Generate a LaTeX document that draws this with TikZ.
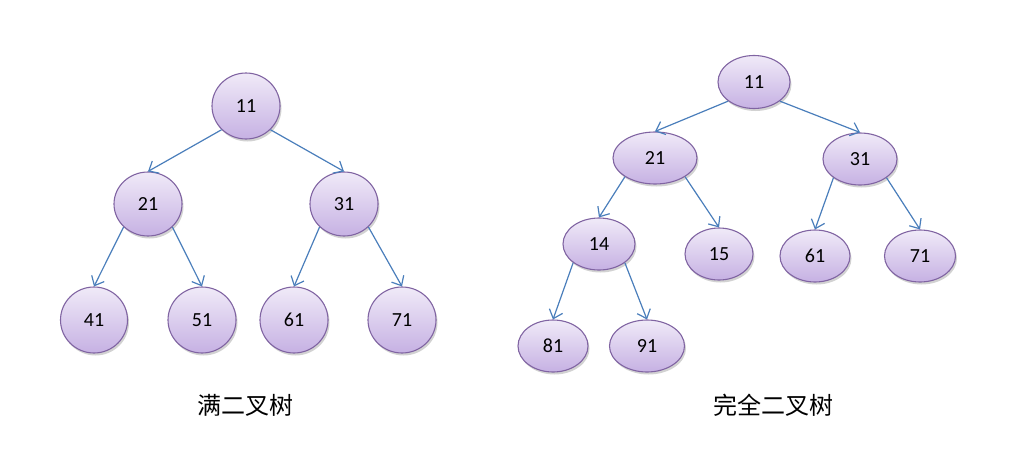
\documentclass[tikz,border=0pt]{standalone}
\usepackage{fontspec}
\setmainfont{Carlito}
\newfontfamily\cjk{Noto Sans CJK SC}
\usetikzlibrary{shapes.geometric,arrows.meta,shadows}
\definecolor{edgeblue}{HTML}{4A7EBB}
\definecolor{nodeborder}{HTML}{8064A2}
\definecolor{topfill}{HTML}{F0EAF8}
\definecolor{botfill}{HTML}{C6B1E3}
\tikzset{
  tn/.style={ellipse, draw=nodeborder, line width=1.1pt, top color=topfill, bottom color=botfill,
    inner sep=0pt, font=\fontsize{20}{22}\selectfont,
    drop shadow={opacity=0.25, shadow xshift=1.5pt, shadow yshift=-2.5pt, fill=black!70}},
  linkarrow/.style={draw=edgeblue, line width=1.2pt, -{Straight Barb[length=8pt,width=14pt]}},
  captext/.style={font=\cjk\fontsize{24}{26}\selectfont}
}
\begin{document}
\begin{tikzpicture}[x=1pt,y=-1pt]
\useasboundingbox (0,0) rectangle (1033,474);
% left full binary tree
\node[tn, minimum width=68pt, minimum height=66pt] (a11) at (246,106) {11};
\node[tn, minimum width=68pt, minimum height=64pt] (a21) at (148,204) {21};
\node[tn, minimum width=68pt, minimum height=64pt] (a31) at (344,204) {31};
\node[tn, minimum width=67pt, minimum height=66pt] (a41) at (94,320) {41};
\node[tn, minimum width=68pt, minimum height=66pt] (a51) at (202,320) {51};
\node[tn, minimum width=68pt, minimum height=66pt] (a61) at (294,320) {61};
\node[tn, minimum width=68pt, minimum height=66pt] (a71) at (402,320) {71};
\draw[linkarrow] (a11.south west) -- (a21.north);
\draw[linkarrow] (a11.south east) -- (a31.north);
\draw[linkarrow] (a21.south west) -- (a41.north);
\draw[linkarrow] (a21.south east) -- (a51.north);
\draw[linkarrow] (a31.south west) -- (a61.north);
\draw[linkarrow] (a31.south east) -- (a71.north);
\node[captext] (capA) at (245,405) {满二叉树};
% right complete binary tree
\node[tn, minimum width=72pt, minimum height=53pt] (b11) at (754,82) {11};
\node[tn, minimum width=84pt, minimum height=52pt] (b21) at (655,158) {21};
\node[tn, minimum width=74pt, minimum height=52pt] (b31) at (860,159) {31};
\node[tn, minimum width=72pt, minimum height=52pt] (b14) at (599,244) {14};
\node[tn, minimum width=68pt, minimum height=52pt] (b15) at (719,254) {15};
\node[tn, minimum width=70pt, minimum height=52pt] (b61) at (815,256) {61};
\node[tn, minimum width=71pt, minimum height=52pt] (b71) at (920,256) {71};
\node[tn, minimum width=70pt, minimum height=52pt] (b81) at (553,346) {81};
\node[tn, minimum width=75pt, minimum height=52pt] (b91) at (647,346) {91};
\draw[linkarrow] (b11.south west) -- (b21.north);
\draw[linkarrow] (b11.south east) -- (b31.north);
\draw[linkarrow] (b21.south west) -- (b14.north);
\draw[linkarrow] (b21.south east) -- (b15.north);
\draw[linkarrow] (b31.south west) -- (b61.north);
\draw[linkarrow] (b31.south east) -- (b71.north);
\draw[linkarrow] (b14.south west) -- (b81.north);
\draw[linkarrow] (b14.south east) -- (b91.north);
\node[captext] (capB) at (773,405) {完全二叉树};
\end{tikzpicture}
\end{document}
